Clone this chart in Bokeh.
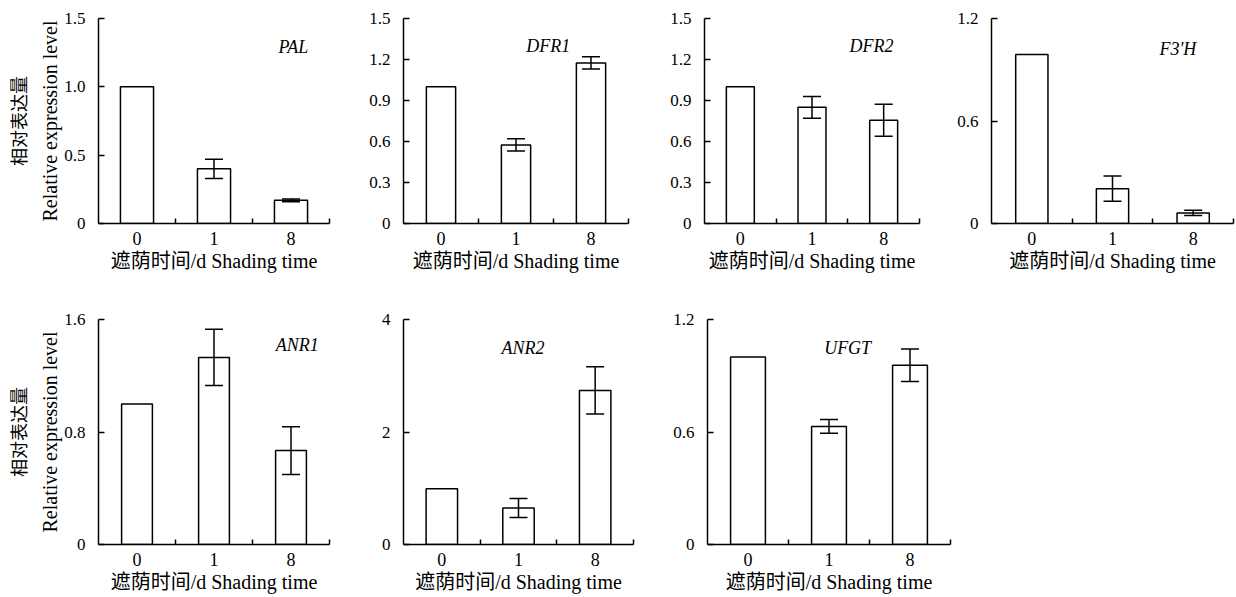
from bokeh.plotting import figure
from bokeh.layouts import column, row
from bokeh.models import (Range1d, FixedTicker, LinearAxis, Whisker, TeeHead,
                          ColumnDataSource, Label)
from bokeh.embed import file_html
from bokeh.resources import INLINE

# ---------------- data ----------------
categories = ["0", "1", "8"]

pal_mean = [1.0, 0.40, 0.17]
pal_err = [0.0, 0.07, 0.01]
dfr1_mean = [1.0, 0.575, 1.175]
dfr1_err = [0.0, 0.045, 0.045]
dfr2_mean = [1.0, 0.85, 0.755]
dfr2_err = [0.0, 0.08, 0.117]
f3h_mean = [0.99, 0.204, 0.062]
f3h_err = [0.0, 0.074, 0.015]
anr1_mean = [1.0, 1.33, 0.668]
anr1_err = [0.0, 0.20, 0.17]
anr2_mean = [0.99, 0.65, 2.74]
anr2_err = [0.0, 0.17, 0.42]
ufgt_mean = [1.0, 0.63, 0.956]
ufgt_err = [0.0, 0.037, 0.087]

pal_yticks = [0, 0.5, 1.0, 1.5]
pal_ylabels = ["0", "0.5", "1.0", "1.5"]
dfr_yticks = [0, 0.3, 0.6, 0.9, 1.2, 1.5]
dfr_ylabels = ["0", "0.3", "0.6", "0.9", "1.2", "1.5"]
f3h_yticks = [0, 0.6, 1.2]
f3h_ylabels = ["0", "0.6", "1.2"]
anr1_yticks = [0, 0.8, 1.6]
anr1_ylabels = ["0", "0.8", "1.6"]
anr2_yticks = [0, 2, 4]
anr2_ylabels = ["0", "2", "4"]
ufgt_yticks = [0, 0.6, 1.2]
ufgt_ylabels = ["0", "0.6", "1.2"]

x_title = "遮荫时间/d Shading time"
y_title_en = "Relative expression level"
y_title_zh = "相对表达量"

# ---------------- styling ----------------
LATIN = "Liberation Serif, Noto Sans CJK SC"


def make_panel(gene, means, errs, yticks, ylabels, ymax, lay, ytitle=False):
    L, W, R, T, FH, B, bw, gx, gy = lay
    n = len(categories)
    p = figure(width=L + W + R, height=T + FH + B,
               min_border_left=L, min_border_right=R,
               min_border_top=T, min_border_bottom=B,
               x_range=Range1d(0, n), y_range=Range1d(0, ymax),
               output_backend="svg", toolbar_location=None, tools="")
    p.outline_line_color = None
    p.xgrid.visible = False
    p.ygrid.visible = False
    p.background_fill_color = "white"
    p.border_fill_color = "white"

    xs = [i + 0.5 for i in range(n)]
    p.vbar(x=xs, top=means, width=bw, bottom=0, fill_color="white",
           line_color="black", line_width=1.5)

    wx, wu, wl = [], [], []
    for x, m, e in zip(xs, means, errs):
        if e > 0:
            wx.append(x)
            wu.append(m + e)
            wl.append(m - e)
    src = ColumnDataSource(dict(x=wx, upper=wu, lower=wl))
    wh = Whisker(base="x", upper="upper", lower="lower", source=src,
                 line_color="black", line_width=1.5, level="overlay",
                 upper_head=TeeHead(size=18, line_width=1.5, line_color="black"),
                 lower_head=TeeHead(size=18, line_width=1.5, line_color="black"))
    p.add_layout(wh)

    # x axis
    xa = p.xaxis[0]
    xa.ticker = FixedTicker(ticks=xs, minor_ticks=[i + 1 for i in range(n)])
    xa.major_label_overrides = {x: c for x, c in zip(xs, categories)}
    xa.major_tick_in = 0
    xa.major_tick_out = 0
    xa.minor_tick_in = 5
    xa.minor_tick_out = 0
    xa.minor_tick_line_width = 1.5
    xa.minor_tick_line_color = "black"
    xa.axis_line_width = 1.5
    xa.axis_line_color = "black"
    xa.major_label_text_font = LATIN
    xa.major_label_text_font_size = "18px"
    xa.major_label_text_color = "black"
    xa.major_label_standoff = 8
    xa.axis_label = x_title
    xa.axis_label_text_font = LATIN
    xa.axis_label_text_font_size = "20px"
    xa.axis_label_text_font_style = "normal"
    xa.axis_label_text_color = "black"
    xa.axis_label_standoff = 2

    # y axis
    ya = p.yaxis[0]
    ya.ticker = FixedTicker(ticks=yticks)
    ya.major_label_overrides = {t: s for t, s in zip(yticks, ylabels)}
    ya.major_tick_in = 6
    ya.major_tick_out = 0
    ya.minor_tick_in = 0
    ya.minor_tick_out = 0
    ya.major_tick_line_width = 1.5
    ya.major_tick_line_color = "black"
    ya.axis_line_width = 1.5
    ya.axis_line_color = "black"
    ya.major_label_text_font = LATIN
    ya.major_label_text_font_size = "17px"
    ya.major_label_text_color = "black"
    ya.major_label_standoff = 13
    if ytitle:
        ya.axis_label = y_title_en
        ya.axis_label_text_font = LATIN
        ya.axis_label_text_font_size = "20px"
        ya.axis_label_text_font_style = "normal"
        ya.axis_label_text_color = "black"
        ya.axis_label_standoff = 0
        za = LinearAxis(ticker=FixedTicker(ticks=[]), axis_label=y_title_zh,
                        axis_line_color=None, major_tick_in=0, major_tick_out=0,
                        minor_tick_in=0, minor_tick_out=0,
                        major_label_text_font_size="0px",
                        major_label_standoff=0, axis_label_standoff=6,
                        axis_label_text_font="Noto Sans CJK SC",
                        axis_label_text_font_size="18px",
                        axis_label_text_font_style="normal",
                        axis_label_text_color="black")
        p.add_layout(za, "left")

    p.add_layout(Label(x=gx, y=gy, text=gene, text_font=LATIN,
                       text_font_style="italic", text_font_size="18px",
                       text_align="center", text_baseline="middle",
                       text_color="black"))
    return p


# layout: L, W, R, T, FH, B, bar width, gene label x, gene label y
p1 = make_panel("PAL", pal_mean, pal_err, pal_yticks, pal_ylabels, 1.5,
                (98, 231, 12, 15, 210, 72, 0.43, 2.53, 1.29), ytitle=True)
p2 = make_panel("DFR1", dfr1_mean, dfr1_err, dfr_yticks, dfr_ylabels, 1.5,
                (62, 225, 12, 18, 205, 74, 0.39, 1.93, 1.30))
p3 = make_panel("DFR2", dfr2_mean, dfr2_err, dfr_yticks, dfr_ylabels, 1.5,
                (64, 215, 12, 16, 211, 70, 0.39, 2.33, 1.30))
p4 = make_panel("F3'H", f3h_mean, f3h_err, f3h_yticks, f3h_ylabels, 1.2,
                (60, 242, 2, 16, 209, 72, 0.40, 2.31, 1.02))
p5 = make_panel("ANR1", anr1_mean, anr1_err, anr1_yticks, anr1_ylabels, 1.6,
                (98, 231, 12, 22, 226, 51, 0.40, 2.58, 1.42), ytitle=True)
p6 = make_panel("ANR2", anr2_mean, anr2_err, anr2_yticks, anr2_ylabels, 4,
                (62, 230, 12, 19, 228, 52, 0.41, 1.56, 3.49))
p7 = make_panel("UFGT", ufgt_mean, ufgt_err, ufgt_yticks, ufgt_ylabels, 1.2,
                (62, 243, 10, 20, 227, 52, 0.43, 1.73, 1.048))

layout = column(row(p1, p2, p3, p4), row(p5, p6, p7))
open("out.html", "w").write(file_html(layout, INLINE))
